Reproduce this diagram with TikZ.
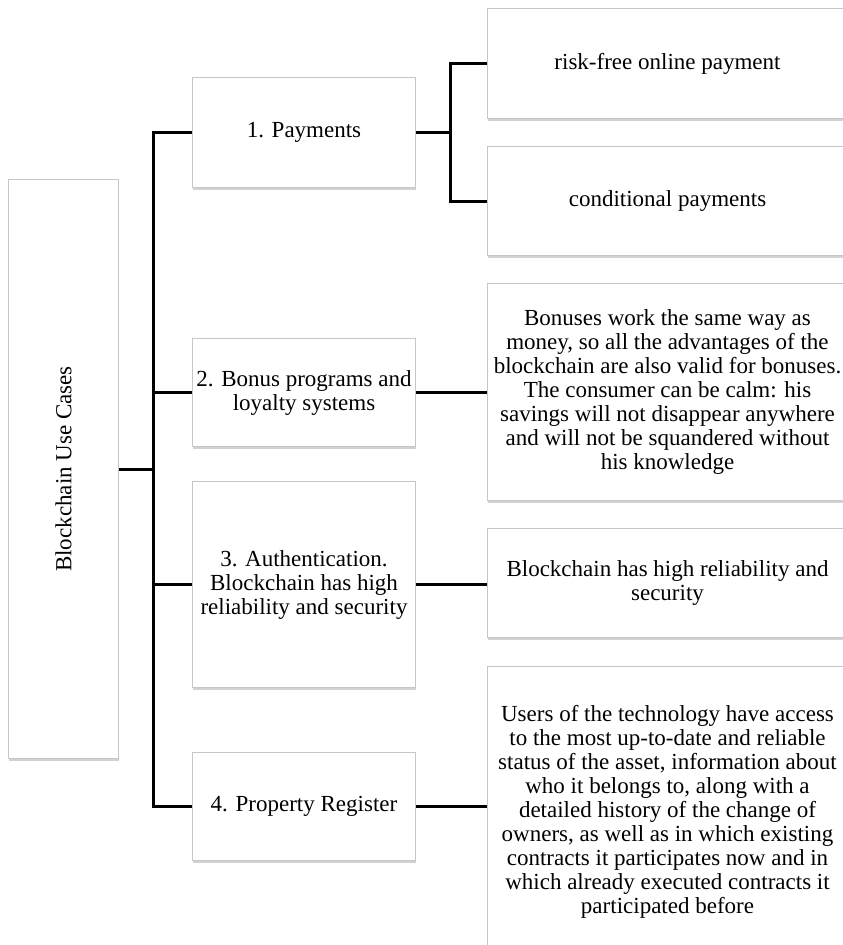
\documentclass[tikz,border=0pt]{standalone}
\usepackage{fontspec}
\setmainfont{Liberation Serif}
\usepackage{graphicx}
\usetikzlibrary{shadows}
\tikzset{
  box/.style={draw=gray!45, line width=1pt, fill=white, inner sep=0pt, align=center, anchor=north west,
    drop shadow={shadow xshift=0.6pt, shadow yshift=-2pt, fill=gray!70, opacity=0.5}},
  link/.style={line width=3pt, black}
}
\begin{document}
\begin{tikzpicture}[x=1pt, y=-1pt, font=\fontsize{23}{24}\selectfont]
\useasboundingbox (0,0) rectangle (843,945);
\clip (0,0) rectangle (843,945);
% root box
\node[box, minimum width=110pt, minimum height=579pt] (root) at (8,179) {\rotatebox{90}{Blockchain Use Cases}};
% use cases
\node[box, minimum width=223pt, minimum height=110pt] (pay) at (192,77) {1. Payments};
\node[box, minimum width=223pt, minimum height=108pt] (bonus) at (192,338) {2. Bonus programs and\\ loyalty systems};
\node[box, minimum width=223pt, minimum height=206pt] (auth) at (192,481) {3. Authentication.\\ Blockchain has high\\ reliability and security};
\node[box, minimum width=223pt, minimum height=108pt] (prop) at (192,752) {4. Property Register};
% details
\node[box, minimum width=360pt, minimum height=110pt] (payA) at (487,8) {risk-free online payment};
\node[box, minimum width=360pt, minimum height=109pt] (payB) at (487,146) {conditional payments};
\node[box, minimum width=360pt, minimum height=217pt] (bonusD) at (487,283) {Bonuses work the same way as\\ money, so all the advantages of the\\ blockchain are also valid for bonuses.\\ The consumer can be calm: his\\ savings will not disappear anywhere\\ and will not be squandered without\\ his knowledge};
\node[box, minimum width=360pt, minimum height=109pt] (authD) at (487,528) {Blockchain has high reliability and\\ security};
\node[box, minimum width=360pt, minimum height=290pt] (propD) at (487,666) {Users of the technology have access\\ to the most up-to-date and reliable\\ status of the asset, information about\\ who it belongs to, along with a\\ detailed history of the change of\\ owners, as well as in which existing\\ contracts it participates now and in\\ which already executed contracts it\\ participated before};
% connectors
\coordinate (trunk) at (153,0);
\coordinate (split) at (450,0);
\draw[link] (root.east) -- (root.east -| trunk);
\draw[link] (pay.west) -- (pay.west -| trunk) -- (prop.west -| trunk) -- (prop.west);
\draw[link] (bonus.west) -- (bonus.west -| trunk);
\draw[link] (auth.west) -- (auth.west -| trunk);
\draw[link] (pay.east) -- (pay.east -| split);
\draw[link] (payA.west) -- (payA.west -| split) -- (payB.west -| split) -- (payB.west);
\draw[link] (bonus.east) -- (bonusD.west |- bonus.east);
\draw[link] (auth.east) -- (authD.west |- auth.east);
\draw[link] (prop.east) -- (propD.west |- prop.east);
\end{tikzpicture}
\end{document}
